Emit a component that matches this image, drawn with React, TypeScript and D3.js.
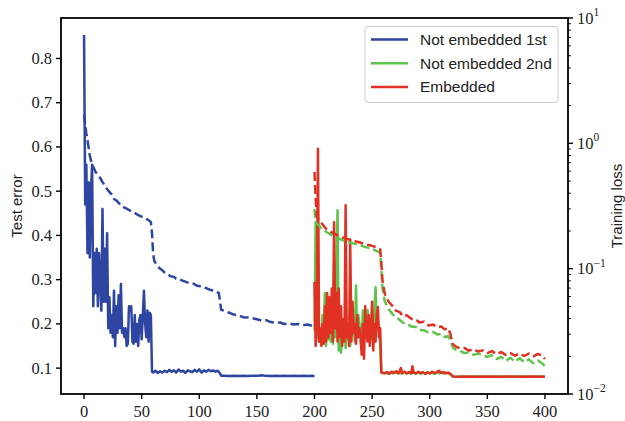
import { useRef, useEffect } from "react";
import * as d3 from "d3";

type Pt = [number, number];

// test error (left axis), solid lines
const blueErr: Pt[] = [
  [0, 0.853], [1, 0.47], [2, 0.56], [3, 0.36], [4, 0.52], [5, 0.35], [6, 0.5], [7, 0.56],
  [8, 0.24], [9, 0.36], [10, 0.27], [11, 0.37], [12, 0.24], [13, 0.36], [14, 0.3], [15, 0.23],
  [16, 0.46], [17, 0.25], [18, 0.37], [19, 0.25], [20, 0.405], [21, 0.19], [22, 0.26], [23, 0.18],
  [24, 0.22], [25, 0.17], [26, 0.275], [27, 0.15], [28, 0.24], [29, 0.18], [30, 0.265], [31, 0.19],
  [32, 0.29], [33, 0.18], [34, 0.19], [35, 0.17], [36, 0.19], [37, 0.15], [38, 0.155], [39, 0.24],
  [40, 0.23], [41, 0.24], [42, 0.16], [43, 0.155], [44, 0.22], [45, 0.16], [46, 0.2], [47, 0.15],
  [48, 0.21], [49, 0.22], [50, 0.165], [51, 0.22], [52, 0.275], [53, 0.2], [54, 0.17], [55, 0.23],
  [56, 0.16], [57, 0.225], [58, 0.22], [59, 0.092], [60, 0.09], [62, 0.094], [64, 0.089], [66, 0.093],
  [68, 0.09], [70, 0.094], [72, 0.091], [74, 0.096], [76, 0.092], [78, 0.095], [80, 0.09], [82, 0.097],
  [84, 0.092], [86, 0.094], [88, 0.089], [90, 0.095], [92, 0.093], [94, 0.091], [96, 0.096], [98, 0.092],
  [100, 0.097], [102, 0.09], [104, 0.095], [106, 0.092], [108, 0.096], [110, 0.093], [112, 0.095],
  [114, 0.092], [116, 0.094], [118, 0.088], [119, 0.083], [122, 0.0825], [126, 0.082], [130, 0.083],
  [134, 0.082], [138, 0.0825], [142, 0.082], [146, 0.083], [150, 0.0825], [154, 0.084], [158, 0.0825],
  [162, 0.082], [166, 0.0825], [170, 0.082], [174, 0.0825], [178, 0.082], [182, 0.0825], [186, 0.082],
  [190, 0.0825], [194, 0.082], [198, 0.0825], [200, 0.082],
];

const greenErr: Pt[] = [
  [200, 0.185], [201, 0.43], [202, 0.17], [203, 0.21], [204, 0.16], [205, 0.19], [206, 0.155], [207, 0.22],
  [208, 0.16], [209, 0.27], [210, 0.15], [211, 0.2], [212, 0.165], [213, 0.19], [214, 0.16], [215, 0.23],
  [216, 0.155], [217, 0.335], [218, 0.17], [219, 0.31], [220, 0.457], [221, 0.14], [222, 0.2], [223, 0.135],
  [224, 0.18], [225, 0.17], [226, 0.21], [227, 0.145], [228, 0.19], [229, 0.165], [230, 0.2], [231, 0.15],
  [232, 0.24], [233, 0.175], [234, 0.19], [235, 0.16], [236, 0.287], [237, 0.17], [238, 0.22], [239, 0.2],
  [240, 0.175], [241, 0.165], [242, 0.23], [243, 0.17], [244, 0.21], [245, 0.175], [246, 0.231], [247, 0.18],
  [248, 0.2], [249, 0.165], [250, 0.21], [251, 0.17], [252, 0.23], [253, 0.283], [254, 0.2], [255, 0.19],
  [256, 0.195], [257, 0.15], [258, 0.09], [260, 0.088], [262, 0.09], [264, 0.087], [266, 0.091], [268, 0.088],
  [270, 0.092], [272, 0.088], [274, 0.09], [276, 0.087], [278, 0.091], [280, 0.088], [282, 0.09], [284, 0.087],
  [286, 0.091], [288, 0.088], [290, 0.09], [292, 0.087], [294, 0.09], [296, 0.088], [298, 0.091], [300, 0.088],
  [302, 0.09], [304, 0.087], [306, 0.09], [308, 0.088], [310, 0.091], [312, 0.088], [314, 0.09], [316, 0.088],
  [318, 0.086], [320, 0.081], [330, 0.0805], [340, 0.081], [350, 0.0805], [360, 0.081], [370, 0.0805],
  [380, 0.081], [390, 0.0805], [400, 0.081],
];

const redErr: Pt[] = [
  [200, 0.295], [201, 0.15], [202, 0.2], [203, 0.596], [204, 0.16], [205, 0.19], [206, 0.15], [207, 0.2],
  [208, 0.155], [209, 0.24], [210, 0.16], [211, 0.27], [212, 0.17], [213, 0.26], [214, 0.18], [215, 0.28],
  [216, 0.16], [217, 0.43], [218, 0.19], [219, 0.27], [220, 0.16], [221, 0.28], [222, 0.17], [223, 0.24],
  [224, 0.15], [225, 0.21], [226, 0.16], [227, 0.468], [228, 0.17], [229, 0.2], [230, 0.15], [231, 0.39],
  [232, 0.16], [233, 0.25], [234, 0.18], [235, 0.2], [236, 0.155], [237, 0.22], [238, 0.17], [239, 0.19],
  [240, 0.165], [241, 0.13], [242, 0.2], [243, 0.121], [244, 0.24], [245, 0.18], [246, 0.16], [247, 0.22],
  [248, 0.15], [249, 0.19], [250, 0.25], [251, 0.14], [252, 0.2], [253, 0.16], [254, 0.22], [255, 0.238],
  [256, 0.17], [257, 0.19], [258, 0.09], [259, 0.09], [261, 0.088], [263, 0.091], [265, 0.087], [267, 0.092],
  [269, 0.089], [271, 0.093], [273, 0.088], [275, 0.1], [276, 0.089], [278, 0.092], [280, 0.088], [282, 0.091],
  [284, 0.089], [285, 0.104], [286, 0.09], [288, 0.088], [290, 0.092], [292, 0.089], [294, 0.091], [296, 0.087],
  [298, 0.09], [300, 0.088], [302, 0.092], [304, 0.089], [306, 0.091], [308, 0.094], [310, 0.089], [312, 0.091],
  [314, 0.088], [316, 0.09], [318, 0.087], [320, 0.081], [325, 0.0805], [330, 0.081], [340, 0.0805],
  [350, 0.081], [360, 0.0805], [370, 0.081], [380, 0.0805], [390, 0.081], [400, 0.0805],
];

// training loss (right log axis), dashed lines
const blueLoss: Pt[] = [
  [0, 1.7], [1, 1.4], [2, 1.2], [3, 1.06], [4, 0.92], [5, 0.8], [6, 0.73], [8, 0.65], [10, 0.59],
  [12, 0.56], [14, 0.53], [16, 0.49], [18, 0.46], [20, 0.43], [22, 0.41], [24, 0.39], [26, 0.36],
  [28, 0.35], [30, 0.335], [32, 0.32], [34, 0.31], [36, 0.305], [38, 0.297], [40, 0.29], [42, 0.282],
  [44, 0.278], [46, 0.271], [48, 0.265], [50, 0.26], [52, 0.256], [54, 0.25], [56, 0.244], [58, 0.235],
  [59, 0.19], [60, 0.13], [61, 0.115], [63, 0.107], [66, 0.1], [68, 0.097], [70, 0.093], [72, 0.091],
  [75, 0.087], [78, 0.086], [80, 0.083], [83, 0.082], [86, 0.08], [89, 0.078], [92, 0.077], [95, 0.076],
  [98, 0.073], [100, 0.0727], [103, 0.071], [106, 0.07], [109, 0.068], [112, 0.067], [115, 0.065],
  [117, 0.064], [118, 0.055], [119, 0.047], [122, 0.046], [126, 0.0445], [130, 0.043], [134, 0.0425],
  [138, 0.041], [142, 0.0408], [146, 0.0402], [150, 0.0395], [154, 0.0385], [158, 0.0388], [162, 0.0375],
  [166, 0.037], [170, 0.0372], [174, 0.0362], [178, 0.0366], [182, 0.0358], [186, 0.0362], [190, 0.0354],
  [194, 0.0358], [197, 0.0352], [200, 0.034],
];

const greenLoss: Pt[] = [
  [200, 0.3], [201, 0.235], [203, 0.225], [206, 0.21], [210, 0.197], [213, 0.19], [215, 0.185],
  [218, 0.179], [220, 0.175], [223, 0.171], [225, 0.168], [228, 0.164], [230, 0.162], [233, 0.16],
  [235, 0.158], [238, 0.155], [240, 0.153], [243, 0.15], [245, 0.148], [248, 0.146], [250, 0.143],
  [253, 0.14], [255, 0.137], [257, 0.133], [258, 0.1], [259, 0.07], [261, 0.055], [264, 0.048],
  [268, 0.043], [271, 0.041], [274, 0.039], [277, 0.037], [280, 0.0365], [284, 0.0345], [288, 0.0342],
  [291, 0.0325], [295, 0.0322], [299, 0.031], [303, 0.0312], [307, 0.0298], [310, 0.0302], [313, 0.0284],
  [316, 0.029], [318, 0.027], [320, 0.0235], [323, 0.0225], [326, 0.0222], [330, 0.0212], [334, 0.0215],
  [338, 0.0206], [342, 0.021], [346, 0.0203], [350, 0.0198], [354, 0.0204], [358, 0.019], [362, 0.0198],
  [366, 0.0183], [370, 0.0195], [374, 0.0181], [378, 0.0193], [382, 0.018], [386, 0.0189], [390, 0.0176],
  [394, 0.0185], [398, 0.0174], [400, 0.0166],
];

const redLoss: Pt[] = [
  [200, 0.59], [201, 0.36], [202, 0.263], [204, 0.245], [207, 0.225], [210, 0.208], [213, 0.2],
  [215, 0.195], [218, 0.189], [220, 0.185], [223, 0.18], [225, 0.177], [228, 0.173], [230, 0.171],
  [233, 0.168], [235, 0.166], [238, 0.163], [240, 0.161], [243, 0.158], [245, 0.156], [248, 0.154],
  [250, 0.152], [253, 0.149], [255, 0.147], [257, 0.143], [258, 0.11], [259, 0.08], [261, 0.063],
  [264, 0.055], [268, 0.05], [271, 0.046], [274, 0.045], [277, 0.0415], [280, 0.0425], [284, 0.0398],
  [288, 0.0395], [291, 0.0372], [295, 0.0378], [299, 0.0352], [303, 0.0358], [307, 0.034], [310, 0.0346],
  [313, 0.0328], [316, 0.0335], [318, 0.03], [320, 0.025], [323, 0.0238], [326, 0.0232], [330, 0.0233],
  [334, 0.0222], [338, 0.0228], [342, 0.0218], [346, 0.0223], [350, 0.0212], [354, 0.022], [358, 0.0208],
  [362, 0.0216], [366, 0.0205], [370, 0.0212], [374, 0.0202], [378, 0.0211], [382, 0.0201], [386, 0.021],
  [390, 0.02], [394, 0.0209], [398, 0.0201], [400, 0.019],
];

const xTicks = [0, 50, 100, 150, 200, 250, 300, 350, 400];
const leftTicks = [0.1, 0.2, 0.3, 0.4, 0.5, 0.6, 0.7, 0.8];
const rightExps = [-2, -1, 0, 1];
const legendLabels = ["Not embedded 1st", "Not embedded 2nd", "Embedded"];
const colors = ["#2e45a1", "#5ec54c", "#e03122"];

const SERIF = "'Liberation Serif', 'DejaVu Serif', serif";
const SANS = "'Liberation Sans', Arial, sans-serif";

export default function App() {
  const svgRef = useRef<SVGSVGElement>(null);

  useEffect(() => {
    if (!svgRef.current) return;
    const svg = d3.select(svgRef.current);
    svg.selectAll("*").remove();

    const left = 61, right = 568, top = 18, bottom = 394;
    const x = d3.scaleLinear().domain([-20, 420]).range([left, right]);
    const yL = d3.scaleLinear().domain([0.0415, 0.8915]).range([bottom, top]);
    const yR = d3.scaleLog().domain([0.01, 10]).range([bottom, top]);

    const lineL = d3.line<Pt>().x((d) => x(d[0])).y((d) => yL(d[1]));
    const lineR = d3.line<Pt>().x((d) => x(d[0])).y((d) => yR(d[1]));

    // solid test error lines
    [blueErr, greenErr, redErr].forEach((data, i) => {
      svg
        .append("path")
        .attr("d", lineL(data))
        .attr("fill", "none")
        .attr("stroke", colors[i])
        .attr("stroke-width", 2.5)
        .attr("stroke-linejoin", "round");
    });

    // dashed training loss lines
    [blueLoss, greenLoss, redLoss].forEach((data, i) => {
      svg
        .append("path")
        .attr("d", lineR(data))
        .attr("fill", "none")
        .attr("stroke", colors[i])
        .attr("stroke-width", 2.5)
        .attr("stroke-dasharray", "9,4")
        .attr("stroke-linejoin", "round");
    });

    // axes frame
    svg
      .append("rect")
      .attr("x", left)
      .attr("y", top)
      .attr("width", right - left)
      .attr("height", bottom - top)
      .attr("fill", "none")
      .attr("stroke", "#000")
      .attr("stroke-width", 1.8);

    // x ticks
    xTicks.forEach((t) => {
      svg.append("line").attr("x1", x(t)).attr("x2", x(t)).attr("y1", bottom).attr("y2", bottom + 5)
        .attr("stroke", "#000").attr("stroke-width", 1.4);
      svg.append("text").attr("x", x(t)).attr("y", 417).attr("text-anchor", "middle")
        .attr("font-family", SERIF).attr("font-size", 16.5).attr("fill", "#222").text(t);
    });

    // left ticks
    leftTicks.forEach((t) => {
      svg.append("line").attr("x1", left).attr("x2", left - 5).attr("y1", yL(t)).attr("y2", yL(t))
        .attr("stroke", "#000").attr("stroke-width", 1.4);
      svg.append("text").attr("x", 52).attr("y", yL(t) + 5.5).attr("text-anchor", "end")
        .attr("font-family", SERIF).attr("font-size", 16.5).attr("fill", "#222").text(t.toFixed(1));
    });

    // right log ticks
    rightExps.forEach((e) => {
      const v = Math.pow(10, e);
      svg.append("line").attr("x1", right).attr("x2", right + 5).attr("y1", yR(v)).attr("y2", yR(v))
        .attr("stroke", "#000").attr("stroke-width", 1.4);
      const txt = svg.append("text").attr("x", 577).attr("y", yR(v) + 5.5)
        .attr("font-family", SERIF).attr("font-size", 16.5).attr("fill", "#222");
      txt.append("tspan").text("10");
      txt.append("tspan").attr("font-size", 11.5).attr("dy", -7.5)
        .text(e < 0 ? `\u2212${-e}` : `${e}`);
      if (e < 1) {
        for (let m = 2; m <= 9; m++) {
          const mv = m * v;
          svg.append("line").attr("x1", right).attr("x2", right + 2.8).attr("y1", yR(mv)).attr("y2", yR(mv))
            .attr("stroke", "#000").attr("stroke-width", 1);
        }
      }
    });

    // axis labels
    svg.append("text").attr("transform", `translate(22,${(top + bottom) / 2}) rotate(-90)`)
      .attr("text-anchor", "middle").attr("font-family", SANS).attr("font-size", 15).attr("fill", "#222")
      .text("Test error");
    svg.append("text").attr("transform", `translate(622,${(top + bottom) / 2}) rotate(-90)`)
      .attr("text-anchor", "middle").attr("font-family", SANS).attr("font-size", 15).attr("fill", "#222")
      .text("Training loss");

    // legend
    const lg = svg.append("g");
    lg.append("rect").attr("x", 365).attr("y", 26.5).attr("width", 193).attr("height", 76).attr("rx", 3)
      .attr("fill", "#fff").attr("fill-opacity", 0.8).attr("stroke", "#cccccc").attr("stroke-width", 1);
    legendLabels.forEach((lab, i) => {
      const ly = 39.5 + i * 23.7;
      lg.append("line").attr("x1", 371).attr("x2", 408).attr("y1", ly).attr("y2", ly)
        .attr("stroke", colors[i]).attr("stroke-width", 2.5);
      lg.append("text").attr("x", 420).attr("y", ly + 5.5).attr("font-family", SANS).attr("font-size", 15.5)
        .attr("fill", "#222").text(lab);
    });
  }, []);

  return (
    <div style={{ position: "absolute", left: 0, top: 0, width: 625, height: 421, background: "#fff" }}>
      <svg ref={svgRef} width={625} height={421} style={{ display: "block" }} />
    </div>
  );
}
